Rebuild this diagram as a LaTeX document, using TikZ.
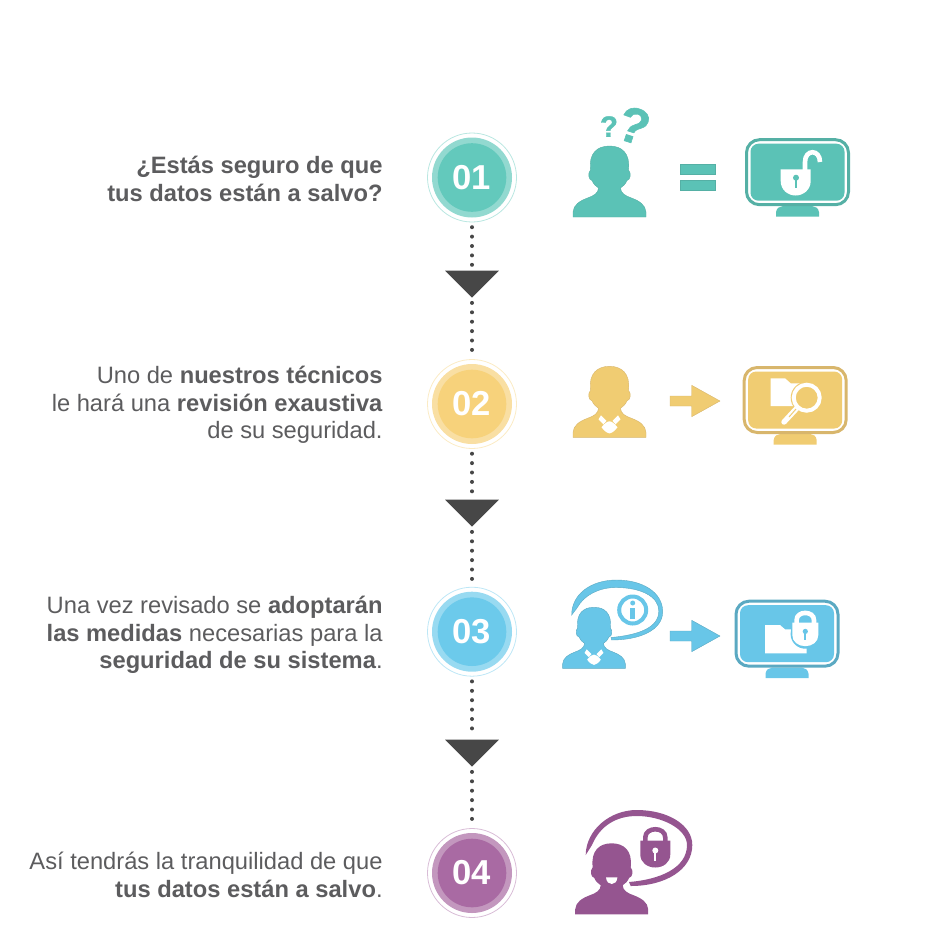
\documentclass[tikz,border=0pt]{standalone}
\usepackage{fontspec}
\setmainfont{Liberation Sans}
\newfontfamily\askfont{Liberation Sans}[UprightFont=* Bold,UprightFeatures={FakeBold=1.2}]
\usepackage{xcolor}
\usetikzlibrary{shapes.geometric,arrows.meta}
\definecolor{txtgray}{HTML}{5C5C5E}
\definecolor{darktri}{HTML}{474747}
\definecolor{numteal}{HTML}{63C9BC}
\definecolor{numyellow}{HTML}{F7D27B}
\definecolor{numblue}{HTML}{6CCAEB}
\definecolor{numpurple}{HTML}{A96AA3}
\definecolor{icoteal}{HTML}{5BC2B6}
\definecolor{icoyellow}{HTML}{F0CC72}
\definecolor{icoblue}{HTML}{68C6E8}
\definecolor{icopurple}{HTML}{955590}
\definecolor{edgeteal}{HTML}{55B0A5}
\definecolor{edgeyellow}{HTML}{D8B66C}
\definecolor{edgeblue}{HTML}{5BA9C2}
\definecolor{edgepurple}{HTML}{84487F}
\tikzset{
stepnum/.style={circle,minimum size=44.5pt,inner sep=0pt,outer sep=0pt,line width=.4pt,text=white,font=\fontsize{17.3}{20}\selectfont\bfseries},
steptext/.style={anchor=east,align=right,inner sep=0pt,text=txtgray,font=\fontsize{11.85}{13.7}\selectfont},
downtri/.style={isosceles triangle,isosceles triangle apex angle=90,shape border rotate=-90,fill=darktri,minimum height=13.4pt,inner sep=0pt,outer sep=0pt},
dotline/.style={draw=darktri,line width=2pt,line cap=round,dash pattern=on 0pt off 4.7pt},
ask/.style={inner sep=0pt,text=icoteal},
person/.pic={
\path[pic actions](-36.5,0)--(-36.5,-5)..controls(-36,-12)and(-30,-16)..(-22,-19)
..controls(-16,-21)and(-11,-24)..(-11,-29)..controls(-14,-31)and(-16,-33)..(-17.5,-36.5)
..controls(-21,-37)and(-22,-44)..(-19,-47)..controls(-21,-64)and(-12,-71)..(0,-71)
..controls(12,-71)and(21,-64)..(19,-47)..controls(22,-44)and(21,-37)..(17.5,-36.5)
..controls(16,-33)and(14,-31)..(11,-29)..controls(11,-24)and(16,-21)..(22,-19)
..controls(30,-16)and(36,-12)..(36.5,-5)--(36.5,0)--cycle;
},
collar/.pic={
\fill[white](-11,-18)--(-8.5,-22)--(-3,-16.5)--(-6,-13)--cycle;
\fill[white](11,-18)--(8.5,-22)--(3,-16.5)--(6,-13)--cycle;
\fill[white](-8,-10)..controls(-5,-14)and(-2,-16)..(0,-16)..controls(2,-16)and(5,-14)..(8,-10)
..controls(5,-6)and(2,-4)..(0,-4)..controls(-2,-4)and(-5,-6)..(-8,-10)--cycle;
},
fatarrow/.pic={
\path[pic actions](-25,-5)--(-3.3,-5)--(-3.3,-15.7)--(25,0)--(-3.3,15.7)--(-3.3,5)--(-25,5)--cycle;
},
pics/monitor/.style 2 args={code={
\fill[#1](-21.5,44.5)--(-21.5,40)..controls(-21,36)and(-18,34)..(-15,34)--(15,34)
..controls(18,34)and(21,36)..(21.5,40)--(21.5,44.5)--cycle;
\draw[#2,fill=white,line width=1.5pt,rounded corners=6.5pt](-51,-32.5)rectangle(51,32.5);
\fill[#1,rounded corners=4pt](-47,-28.5)rectangle(47,28.5);
}},
pics/lock/.style 2 args={code={
\draw[#1,line width=2.3pt](-10,-12)--(-10,-16)..controls(-10,-27)and(10,-27)..(10,-16)--(10,-12);
\fill[#1](-15,-13)--(15,-13)--(15,1)..controls(15,9)and(8,14)..(0,14)..controls(-8,14)and(-15,9)..(-15,1)--cycle;
\fill[#2](0,-3)circle(3);
\draw[#2,line width=1pt](0,-3)--(0,7);
}}
}
\begin{document}
\begin{tikzpicture}[x=.5pt,y=-.5pt]
\useasboundingbox(0,0)rectangle(944,939);
% number circles
\foreach \n/\yy/\col in {1/177.5/numteal,2/404/numyellow,3/631.7/numblue,4/873/numpurple}{
\fill[\col!70!white](472,\yy)circle(40);
\fill[\col](472,\yy)circle(34.3);
\node[stepnum,draw=\col!45!white](s\n)at(472,\yy){0\n};
}
\foreach \n/\yy in {1/281.8,2/510.8,3/750.8}{
\node[downtri](t\n)at(472,\yy){};
}
\foreach \a/\b in {1/2,2/3,3/4}{
\draw[dotline,shorten <=2.6pt,shorten >=1pt](s\a.south)--(t\a.lower side);
\draw[dotline,shorten <=2.7pt,shorten >=2pt](t\a.apex)--(s\b.north);
}
% texts
\node[steptext](l1)at(383,179){\textbf{¿Estás seguro de que}\\\textbf{tus datos están a salvo?}};
\node[steptext](l2)at(383,405){Uno de \textbf{nuestros técnicos}\\le hará una \textbf{revisión exaustiva}\\de su seguridad.};
\node[steptext](l3)at(383,635){Una vez revisado se \textbf{adoptarán}\\\textbf{las medidas} necesarias para la\\\textbf{seguridad de su sistema}.};
\node[steptext](l4)at(383,875){Así tendrás la tranquilidad de que\\\textbf{tus datos están a salvo}.};
% row 1
\path(609.5,217)pic[fill=icoteal,draw=edgeteal,line width=.2pt]{person};
\node[ask,font=\fontsize{14.7}{16}\selectfont\askfont](q1)at(609,126.5){?};
\node[ask,font=\fontsize{25}{27}\selectfont\askfont,rotate=-18](q2)at(634,125.5){?};
\fill[icoteal,draw=edgeteal,line width=.3pt](680,164)rectangle(715,174);
\fill[icoteal,draw=edgeteal,line width=.3pt](680,180.7)rectangle(715,190.7);
\path(797.5,172.2)pic{monitor={icoteal}{edgeteal}};
\draw[white,line width=2.3pt](805,171)--(805,162)..controls(805,149)and(820,149)..(820,162);
\fill[white](780.7,169.3)--(810.7,169.3)--(810.7,181)..controls(810.7,190)and(803,195.5)..(795.7,195.5)
..controls(788,195.5)and(780.7,190)..(780.7,181)--cycle;
\fill[icoteal](796,177.7)circle(3);
\draw[icoteal,line width=1pt](796,177.7)--(796,187.7);
% row 2
\path(609.5,437.3)pic[fill=icoyellow,draw=edgeyellow,line width=.2pt]{person};
\path(609.5,437.3)pic{collar};
\path(695,401)pic[fill=icoyellow,draw=edgeyellow,line width=.2pt]{fatarrow};
\path(795.2,400)pic{monitor={icoyellow}{edgeyellow}};
\fill[white](770.7,378.3)--(785,378.3)--(790.7,383.3)--(801.7,383.3)--(801.7,406)--(770.7,406)--cycle;
\fill[icoyellow](806.7,397.7)circle(16);
\draw[white,line width=2pt,fill=icoyellow](806.7,397.7)circle(13);
\draw[white,line width=2.7pt,line cap=round](797,408)--(784,422);
\draw[icoyellow,line width=.5pt](796,409)--(789,417);
% row 3
\fill[icoblue,draw=edgeblue,line width=.2pt](571.7,615)..controls(571.5,595)and(590,580)..(616.7,580)
..controls(642,580)and(662.7,592)..(662.7,611.7)..controls(662.7,630)and(640,640)..(611.7,640)
--(611,637.5)..controls(638,635)and(658.8,628)..(658.8,611)..controls(658.8,596)and(640,587.5)..(616,587.5)
..controls(599,587.5)and(584,595)..(577,608)--cycle;
\draw[icoblue,line width=2pt](632.7,610)circle(13.5);
\fill[icoblue](632.7,603)circle(2.5);
\fill[icoblue](630.2,607.5)rectangle(635.2,619);
\path(594,668.3)pic[scale=.86,fill=icoblue,draw=edgeblue,line width=.2pt]{person};
\path(594,668.3)pic[scale=.86]{collar};
\path(695,636)pic[fill=icoblue,draw=edgeblue,line width=.2pt]{fatarrow};
\path(787,633.7)pic{monitor={icoblue}{edgeblue}};
\fill[white](765,625)--(780,625)--(785,629.3)--(806.7,629.3)--(806.7,653.3)--(765,653.3)--cycle;
\fill[icoblue](790.5,621)rectangle(820,634);
\fill[icoblue](805.3,634)circle(14.7);
\path(805.3,634)pic[scale=.87]{lock={white}{icoblue}};
% row 4
\fill[icopurple](585.7,855)..controls(586,830)and(610,810)..(636.7,810)
..controls(668,810)and(692.3,825)..(692.3,845)..controls(692.3,870)and(665,886)..(630.7,886)
--(629,882)..controls(660,879.5)and(687,868)..(687,845)..controls(687,829)and(662,816)..(636.7,816)
..controls(616,816)and(600,826)..(592,845)--cycle;
\path(611.7,914.3)pic[fill=icopurple]{person};
\fill[white](606,877.3)--(617.4,877.3)..controls(617,882)and(614.5,884)..(611.7,884)
..controls(609,884)and(606.4,882)..(606,877.3)--cycle;
\path(655.3,853.5)pic{lock={icopurple}{white}};
\end{tikzpicture}
\end{document}
